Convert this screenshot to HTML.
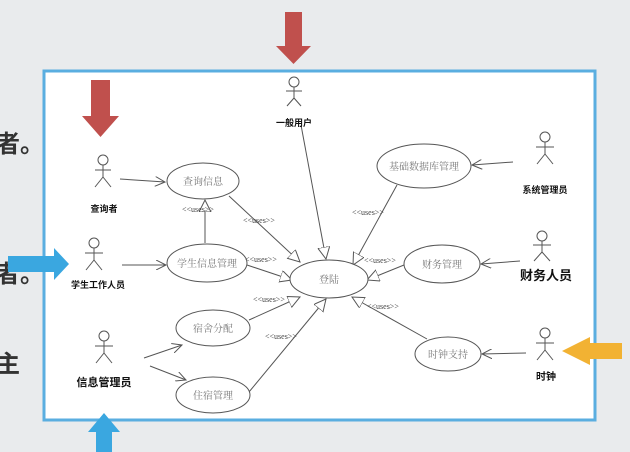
<!DOCTYPE html>
<html><head><meta charset="utf-8"><style>
html,body{margin:0;padding:0;}
body{width:630px;height:452px;overflow:hidden;background:#e9ebed;font-family:"Liberation Sans","Noto Sans CJK SC",sans-serif;}
</style></head><body>
<svg width="630" height="452" xmlns="http://www.w3.org/2000/svg" style="position:absolute;left:0;top:0">
<defs>
<marker id="v" markerWidth="12" markerHeight="10" refX="10" refY="5" orient="auto" markerUnits="userSpaceOnUse"><path d="M0,0 L10,5 L0,10" fill="none" stroke="#555" stroke-width="1"/></marker>
<marker id="t" markerWidth="14" markerHeight="14" refX="12" refY="6" orient="auto" markerUnits="userSpaceOnUse"><path d="M0,0 L12,6 L0,12 Z" fill="#fff" stroke="#555" stroke-width="1"/></marker>
</defs>
<rect x="0" y="0" width="630" height="452" fill="#e9ebed"/>
<g font-size="24" font-weight="bold" fill="#333" font-family="Liberation Sans, Noto Sans CJK SC, sans-serif">
<text x="-4" y="152">者。</text><text x="-4" y="282">者。</text><text x="-4" y="372">主</text>
</g>
<rect x="44" y="71" width="551" height="349" fill="#fff" stroke="#5aaee0" stroke-width="3"/>
<g fill="none" stroke="#555" stroke-width="1">
<line x1="301" y1="125" x2="326" y2="259" marker-end="url(#t)"/>
<line x1="120" y1="179" x2="165" y2="182" marker-end="url(#v)"/>
<line x1="122" y1="265" x2="166" y2="265" marker-end="url(#v)"/>
<line x1="205" y1="243" x2="205" y2="200" marker-end="url(#t)"/>
<line x1="229" y1="196" x2="300" y2="262" marker-end="url(#t)"/>
<line x1="247" y1="265" x2="292" y2="280" marker-end="url(#t)"/>
<line x1="249" y1="320" x2="300" y2="297" marker-end="url(#t)"/>
<line x1="249" y1="392" x2="326" y2="299" marker-end="url(#t)"/>
<line x1="144" y1="358" x2="182" y2="345" marker-end="url(#v)"/>
<line x1="150" y1="366" x2="186" y2="380" marker-end="url(#v)"/>
<line x1="397" y1="185" x2="353" y2="265" marker-end="url(#t)"/>
<line x1="404" y1="265" x2="367" y2="280" marker-end="url(#t)"/>
<line x1="427" y1="339" x2="352" y2="297" marker-end="url(#t)"/>
<line x1="513" y1="162" x2="472" y2="165" marker-end="url(#v)"/>
<line x1="520" y1="261" x2="481" y2="264" marker-end="url(#v)"/>
<line x1="526" y1="353" x2="482" y2="354" marker-end="url(#v)"/>
</g>
<g fill="#fff" stroke="#555" stroke-width="1">
<ellipse cx="203" cy="181" rx="36" ry="18"/>
<ellipse cx="207" cy="263" rx="40" ry="19"/>
<ellipse cx="213" cy="328" rx="37" ry="18"/>
<ellipse cx="213" cy="395" rx="37" ry="18"/>
<ellipse cx="329" cy="279" rx="39" ry="19"/>
<ellipse cx="424" cy="166" rx="47" ry="22"/>
<ellipse cx="442" cy="264" rx="38" ry="19"/>
<ellipse cx="448" cy="354" rx="33" ry="17"/>
</g>
<g font-size="10" fill="#777" text-anchor="middle" font-family="Liberation Serif, Noto Serif CJK SC, serif">
<text x="203" y="185">查询信息</text>
<text x="207" y="267">学生信息管理</text>
<text x="213" y="332">宿舍分配</text>
<text x="213" y="399">住宿管理</text>
<text x="329" y="283">登陆</text>
<text x="424" y="170">基础数据库管理</text>
<text x="442" y="268">财务管理</text>
<text x="448" y="358">时钟支持</text>
</g>
<g font-size="8" fill="#444" font-family="Liberation Serif, serif">
<text x="182" y="212">&lt;&lt;uses&gt;&gt;</text>
<text x="243" y="223">&lt;&lt;uses&gt;&gt;</text>
<text x="245" y="262">&lt;&lt;uses&gt;&gt;</text>
<text x="253" y="302">&lt;&lt;uses&gt;&gt;</text>
<text x="265" y="339">&lt;&lt;uses&gt;&gt;</text>
<text x="352" y="215">&lt;&lt;uses&gt;&gt;</text>
<text x="364" y="263">&lt;&lt;uses&gt;&gt;</text>
<text x="367" y="309">&lt;&lt;uses&gt;&gt;</text>
</g>
<g fill="none" stroke="#555" stroke-width="1">
<g transform="translate(294,82)"><circle cx="0" cy="0" r="5"/><line x1="0" y1="5" x2="0" y2="16"/><line x1="-8" y1="9" x2="8" y2="9"/><line x1="0" y1="16" x2="-7" y2="24"/><line x1="0" y1="16" x2="7" y2="24"/></g>
<g transform="translate(103,160)"><circle cx="0" cy="0" r="5"/><line x1="0" y1="5" x2="0" y2="17"/><line x1="-8" y1="10" x2="8" y2="10"/><line x1="0" y1="17" x2="-8" y2="27"/><line x1="0" y1="17" x2="8" y2="27"/></g>
<g transform="translate(94,243)"><circle cx="0" cy="0" r="5"/><line x1="0" y1="5" x2="0" y2="17"/><line x1="-9" y1="10" x2="9" y2="10"/><line x1="0" y1="17" x2="-8" y2="27"/><line x1="0" y1="17" x2="8" y2="27"/></g>
<g transform="translate(104,336)"><circle cx="0" cy="0" r="5"/><line x1="0" y1="5" x2="0" y2="17"/><line x1="-9" y1="10" x2="9" y2="10"/><line x1="0" y1="17" x2="-8" y2="27"/><line x1="0" y1="17" x2="8" y2="27"/></g>
<g transform="translate(545,137)"><circle cx="0" cy="0" r="5"/><line x1="0" y1="5" x2="0" y2="17"/><line x1="-9" y1="10" x2="9" y2="10"/><line x1="0" y1="17" x2="-8" y2="27"/><line x1="0" y1="17" x2="8" y2="27"/></g>
<g transform="translate(542,236)"><circle cx="0" cy="0" r="5"/><line x1="0" y1="5" x2="0" y2="16"/><line x1="-9" y1="9" x2="9" y2="9"/><line x1="0" y1="16" x2="-8" y2="25"/><line x1="0" y1="16" x2="8" y2="25"/></g>
<g transform="translate(545,333)"><circle cx="0" cy="0" r="5"/><line x1="0" y1="5" x2="0" y2="17"/><line x1="-9" y1="10" x2="9" y2="10"/><line x1="0" y1="17" x2="-8" y2="27"/><line x1="0" y1="17" x2="8" y2="27"/></g>
</g>
<g font-weight="bold" fill="#111" text-anchor="middle" font-family="Liberation Sans, Noto Sans CJK SC, sans-serif">
<text x="294" y="126" font-size="9">一般用户</text>
<text x="104" y="212" font-size="9">查询者</text>
<text x="98" y="288" font-size="9">学生工作人员</text>
<text x="104" y="386" font-size="11">信息管理员</text>
<text x="545" y="193" font-size="9">系统管理员</text>
<text x="546" y="280" font-size="13">财务人员</text>
<text x="546" y="380" font-size="10">时钟</text>
</g>
<path d="M285,12 H302 V46 H311 L293.5,64 L276,46 H285 Z" fill="#c0504d"/>
<path d="M91,80 H110 V116 H119 L100.5,137 L82,116 H91 Z" fill="#c0504d"/>
<path d="M8,256 H54 V248 L69,264 L54,280 V272 H8 Z" fill="#3aa7e0"/>
<path d="M96,452 V432 H88 L104,413 L120,432 H112 V452 Z" fill="#3aa7e0"/>
<path d="M622,343 H590 V337 L562,351 L590,365 V359 H622 Z" fill="#f2b233"/>
</svg>
</body></html>
